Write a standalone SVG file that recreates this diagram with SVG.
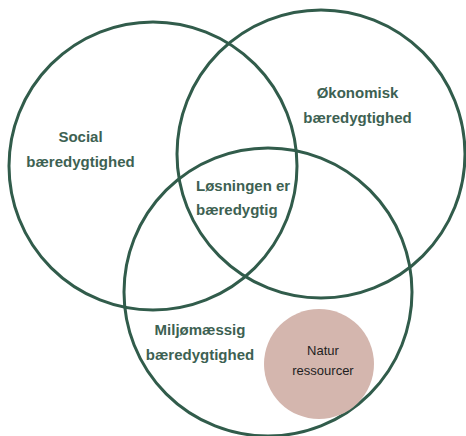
<svg xmlns="http://www.w3.org/2000/svg" width="466" height="436" viewBox="0 0 466 436">
<style>
.ring{fill:none;stroke:#315C4B;stroke-width:3}
.lbl{font-family:"Liberation Sans",Arial,sans-serif;font-weight:bold;font-size:15px;fill:#3D6152;text-anchor:middle}
.nat{font-family:"Liberation Sans",Arial,sans-serif;font-size:13px;fill:#1E1E1E;text-anchor:middle}
</style>
<rect width="466" height="436" fill="#FFFFFF"/>
<g id="connectors"></g>
<g id="social">
<circle class="ring" cx="153" cy="166" r="144"/>
<text class="lbl" x="80.5" y="142">Social</text>
<text class="lbl" x="80.5" y="167">bæredygtighed</text>
</g>
<g id="okonomisk">
<circle class="ring" cx="321" cy="154" r="144"/>
<text class="lbl" x="357.5" y="98">Økonomisk</text>
<text class="lbl" x="357.5" y="123">bæredygtighed</text>
</g>
<g id="miljo">
<circle class="ring" cx="268" cy="292" r="144"/>
<text class="lbl" x="200" y="335">Miljømæssig</text>
<text class="lbl" x="200" y="360">bæredygtighed</text>
</g>
<g id="losning">
<text class="lbl" x="196" y="191" style="text-anchor:start">Løsningen er</text>
<text class="lbl" x="196" y="215" style="text-anchor:start">bæredygtig</text>
</g>
<g id="natur">
<circle cx="319" cy="364" r="55" fill="#D4B6AE"/>
<text class="nat" x="323" y="355">Natur</text>
<text class="nat" x="323" y="375">ressourcer</text>
</g>
</svg>
